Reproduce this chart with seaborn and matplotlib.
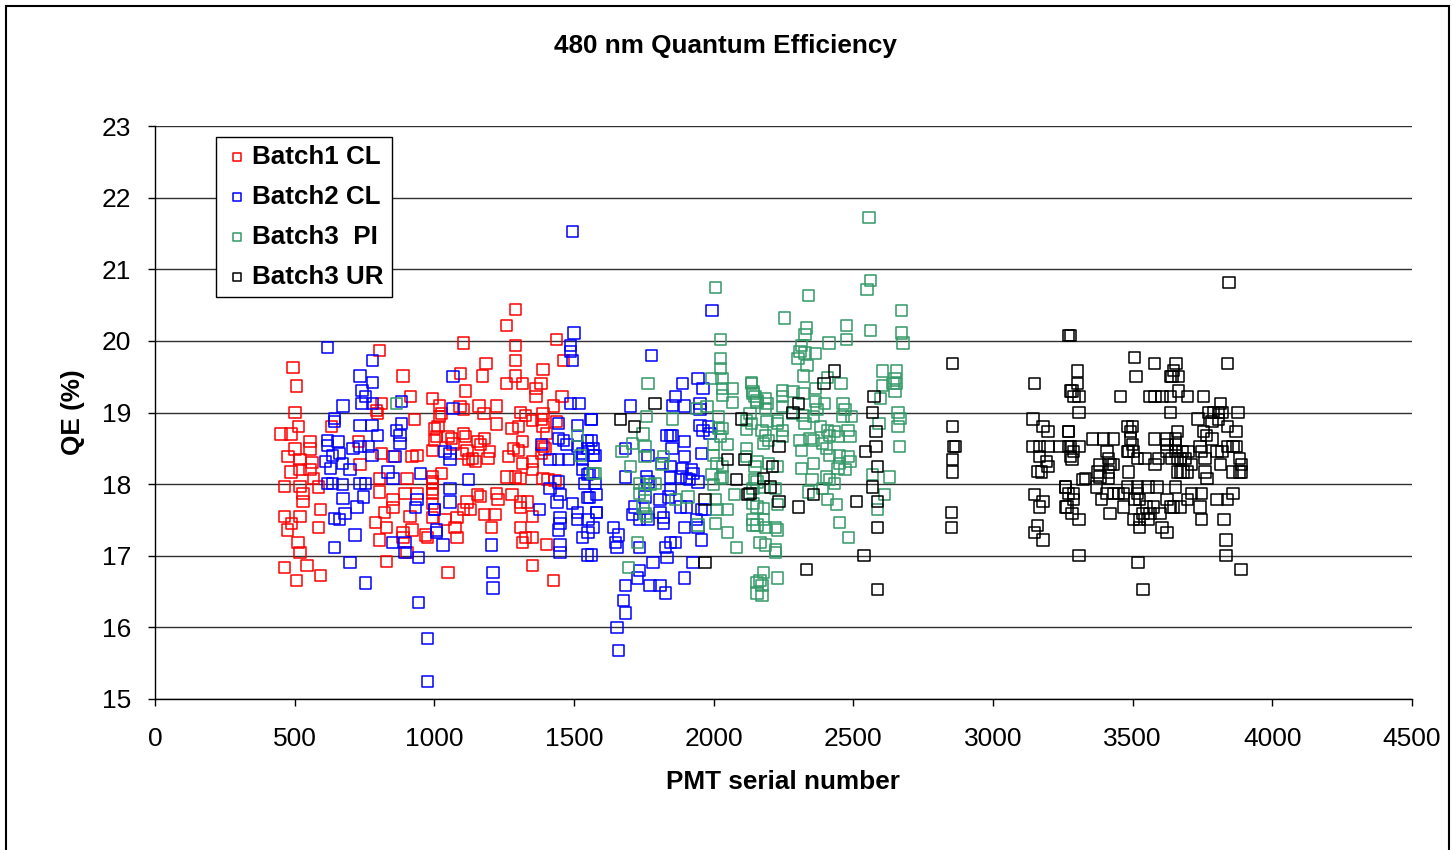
import matplotlib
matplotlib.use('Agg')
import matplotlib.pyplot as plt
import seaborn as sns
import pandas as pd
from matplotlib.patches import Rectangle

sns.set_theme(style='white')
plt.rcParams['font.family'] = ['Liberation Sans', 'DejaVu Sans']

title = '480 nm Quantum Efficiency'
x_label = 'PMT serial number'
y_label = 'QE (%)'
series_names = ['Batch1 CL', 'Batch2 CL', 'Batch3  PI', 'Batch3 UR']
series_colors = ['#FF0000', '#0000FF', '#339966', '#000000']
x_ticks = [0, 500, 1000, 1500, 2000, 2500, 3000, 3500, 4000, 4500]
y_ticks = [15, 16, 17, 18, 19, 20, 21, 22, 23]

batch1_x = [805, 494, 508, 888, 916, 995, 501, 812, 794, 798, 930, 515, 633, 451, 487, 555, 555, 501, 476, 519,
            562, 727, 734, 812, 852, 920, 938, 487, 519, 555, 465, 519, 584, 530, 530, 566, 805, 902, 805, 852,
            895, 938, 995, 995, 591, 465, 519, 490, 473, 584, 823, 788, 830, 852, 913, 920, 888, 967, 977, 805,
            512, 519, 888, 902, 465, 544, 591, 508, 830,
            1292, 1257, 1436, 1103, 1292, 1289, 1185, 1095, 1174, 1257, 1292, 1317, 1389, 1382, 1461, 1113, 1364, 1364, 1457, 1020,
            1027, 1020, 1092, 1103, 1160, 1221, 1178, 1221, 1307, 1325, 1389, 1385, 1389, 1403, 1428, 1436, 1353, 1278, 1300, 1002,
            1013, 1009, 1049, 1063, 1103, 1110, 1002, 995, 1067, 1153, 1164, 1181, 1199, 1192, 1317, 1282, 1300, 1389, 1396, 1385,
            1099, 1117, 1121, 1138, 1146, 1264, 1317, 1353, 1353, 995, 995, 992, 1027, 1260, 1289, 1307, 1389, 1407, 1432, 1156,
            1164, 1224, 1228, 1278, 1307, 1332, 1117, 1103, 1128, 1181, 1217, 1307, 1350, 995, 995, 1038, 1081, 1074, 1081, 1206,
            1307, 1325, 1317, 1350, 1403, 1350, 1049, 1428]
batch1_y = [19.86, 19.63, 19.37, 19.51, 19.22, 19.19, 19.00, 19.12, 19.03, 18.98, 18.90, 18.80, 18.80, 18.70, 18.70, 18.59, 18.49, 18.49, 18.38, 18.34,
            18.30, 18.59, 18.28, 18.43, 18.38, 18.38, 18.40, 18.17, 18.20, 18.20, 17.97, 17.97, 17.96, 17.87, 17.76, 18.08, 18.08, 18.08, 17.89, 17.79,
            17.87, 17.87, 18.03, 17.87, 17.65, 17.55, 17.55, 17.45, 17.36, 17.39, 17.61, 17.47, 17.40, 17.67, 17.55, 17.36, 17.33, 17.29, 17.26, 17.22,
            17.18, 17.05, 17.26, 17.04, 16.83, 16.87, 16.73, 16.66, 16.92,
            20.44, 20.21, 20.02, 19.97, 19.93, 19.73, 19.69, 19.55, 19.51, 19.40, 19.51, 19.41, 19.60, 19.41, 19.72, 19.30, 19.33, 19.22, 19.22, 19.10,
            18.99, 18.94, 19.08, 19.04, 19.09, 19.09, 18.98, 18.84, 19.00, 18.96, 18.99, 18.90, 18.80, 18.71, 19.09, 18.87, 18.89, 18.78, 18.80, 18.78,
            18.80, 18.66, 18.66, 18.64, 18.71, 18.66, 18.61, 18.47, 18.56, 18.59, 18.55, 18.64, 18.45, 18.36, 18.59, 18.50, 18.47, 18.53, 18.49, 18.43,
            18.43, 18.47, 18.34, 18.36, 18.31, 18.38, 18.29, 18.31, 18.20, 18.10, 18.01, 17.92, 18.15, 18.10, 18.10, 18.08, 18.08, 18.07, 18.05, 17.85,
            17.83, 17.87, 17.78, 17.85, 17.75, 17.75, 17.75, 17.64, 17.64, 17.57, 17.57, 17.67, 17.55, 17.73, 17.54, 17.50, 17.54, 17.40, 17.25, 17.40,
            17.39, 17.26, 17.18, 17.25, 17.16, 16.87, 16.76, 16.65]

batch2_x = [616, 780, 734, 780, 741, 752, 673, 741, 780, 884, 644, 644, 734, 777, 795, 884, 866, 877, 877, 616,
            619, 655, 709, 734, 763, 634, 662, 609, 627, 670, 698, 777, 859, 616, 634, 670, 734, 752, 834, 852,
            949, 673, 745, 723, 680, 644, 662, 938, 931, 1002, 1009, 716, 849, 895, 895, 644, 942, 698, 752, 942,
            974, 974,
            1496, 1500, 1486, 1489, 1496, 1067, 1067, 1486, 1518, 1561, 1443, 1511, 1443, 1461, 1547, 1550, 1568, 1385, 1475, 1514,
            1529, 1529, 1038, 1056, 1056, 1414, 1443, 1479, 1532, 1547, 1539, 1121, 1443, 1056, 1414, 1450, 1439, 1547, 1582, 1056,
            1002, 1378, 1450, 1450, 1443, 1496, 1511, 1511, 1550, 1582, 1532, 1550, 1009, 1031, 1206, 1450, 1450, 1547, 1210, 1210,
            1994, 1779, 1890, 1944, 1962, 1862, 1854, 1897, 1701, 1564, 1951, 1951, 1951, 1980, 1962, 1987, 1833, 1844, 1854, 1897,
            1564, 1568, 1575, 1683, 1851, 1765, 1897, 1958, 1815, 1844, 1887, 1922, 1926, 1683, 1761, 1765, 1844, 1880, 1904, 1915,
            1557, 1575, 1944, 1844, 1837, 1808, 1754, 1557, 1582, 1718, 1711, 1736, 1765, 1808, 1819, 1819, 1880, 1904, 1958, 1969,
            1940, 1944, 1897, 1958, 1640, 1658, 1647, 1654, 1736, 1826, 1844, 1862, 1833, 1783, 1926, 1736, 1726, 1683, 1772, 1808,
            1826, 1897, 1676, 1683, 1654, 1658, 1568, 1564]
batch2_y = [19.91, 19.72, 19.51, 19.42, 19.31, 19.22, 19.09, 19.12, 19.12, 19.15, 18.92, 18.87, 18.82, 18.82, 18.68, 18.85, 18.75, 18.68, 18.57, 18.61,
            18.54, 18.59, 18.50, 18.52, 18.52, 18.40, 18.43, 18.31, 18.22, 18.29, 18.20, 18.40, 18.38, 18.01, 18.01, 17.99, 18.01, 18.01, 18.17, 18.08,
            18.15, 17.80, 17.82, 17.68, 17.59, 17.52, 17.50, 17.78, 17.67, 17.64, 17.36, 17.29, 17.18, 17.18, 17.05, 17.11, 16.97, 16.90, 16.62, 16.35,
            15.85, 15.24,
            21.53, 20.11, 19.94, 19.85, 19.72, 19.50, 19.06, 19.12, 19.12, 18.90, 18.85, 18.82, 18.64, 18.61, 18.61, 18.50, 18.40, 18.55, 18.55, 18.52,
            18.43, 18.34, 18.45, 18.43, 18.34, 18.34, 18.34, 18.34, 18.20, 18.13, 18.01, 18.06, 18.03, 17.94, 17.94, 17.85, 17.75, 17.81, 17.85, 17.75,
            17.64, 17.64, 17.54, 17.45, 17.36, 17.73, 17.61, 17.50, 17.50, 17.61, 17.25, 17.32, 17.33, 17.15, 17.15, 17.15, 17.04, 17.01, 16.76, 16.55,
            20.42, 19.79, 19.40, 19.48, 19.33, 19.22, 19.10, 19.09, 19.09, 18.90, 19.13, 19.04, 18.82, 18.80, 18.75, 18.71, 18.68, 18.68, 18.68, 18.59,
            18.61, 18.50, 18.40, 18.50, 18.50, 18.40, 18.38, 18.43, 18.29, 18.24, 18.22, 18.20, 18.15, 18.10, 18.10, 18.03, 18.10, 18.10, 18.08, 18.06,
            18.15, 18.01, 18.03, 17.92, 17.82, 17.78, 17.82, 17.81, 17.61, 17.68, 17.57, 17.50, 17.50, 17.61, 17.53, 17.45, 17.68, 17.68, 17.64, 17.64,
            17.50, 17.40, 17.39, 17.22, 17.40, 17.29, 17.19, 17.11, 17.11, 17.12, 17.19, 17.19, 16.98, 16.90, 16.90, 16.80, 16.69, 16.59, 16.59, 16.59,
            16.48, 16.69, 16.38, 16.20, 16.00, 15.68, 17.39, 17.01]

batch3pi_x = [866, 1511, 1522, 1568,
              2005, 2023, 2023, 2023, 1994, 2030, 1765, 2033, 2033, 2069, 2069, 2137, 2141, 2155, 1940, 1976,
              1854, 1761, 2016, 2016, 2033, 2023, 2119, 2119, 1747, 1708, 1672, 1754, 1754, 1819, 1815, 1701,
              1998, 2048, 1998, 2012, 2033, 2119, 2119, 1575, 1736, 1772, 1754, 1790, 1736, 1994, 2023, 2033,
              1998, 2076, 2148, 1862, 1908, 1747, 1754, 1761, 2005, 2012, 2048, 1944, 2005, 2048, 2141, 2083,
              1726, 1694, 2155, 2155,
              2556, 2563, 2549, 2341, 2252, 2671, 2474, 2474, 2563, 2331, 2327, 2413, 2671, 2678, 2316, 2309,
              2302, 2327, 2334, 2363, 2323, 2456, 2409, 2366, 2606, 2656, 2649, 2642, 2656, 2606, 2649, 2596,
              2137, 2141, 2148, 2184, 2191, 2155, 2184, 2248, 2248, 2284, 2320, 2248, 2363, 2398, 2370, 2356,
              2463, 2470, 2463, 2495, 2284, 2320, 2327, 2660, 2667, 2660, 2592, 2230, 2227, 2191, 2130, 2137,
              2173, 2184, 2195, 2177, 2248, 2248, 2345, 2356, 2381, 2409, 2416, 2434, 2445, 2481, 2488, 2309,
              2316, 2391, 2405, 2416, 2452, 2481, 2488, 2452, 2445, 2470, 2664, 2356, 2316, 2155, 2148, 2195,
              2227, 2352, 2405, 2416, 2434, 2155, 2141, 2177, 2220, 2341, 2391, 2409, 2441, 2570, 2628, 2610,
              2588, 2141, 2155, 2177, 2227, 2449, 2484, 2141, 2155, 2177, 2184, 2220, 2230, 2166, 2184, 2220,
              2220, 2177, 2166, 2173, 2227, 2173]
batch3pi_y = [19.12, 18.68, 18.40, 18.15,
              20.74, 20.02, 19.75, 19.62, 19.48, 19.47, 19.40, 19.34, 19.24, 19.34, 19.14, 19.41, 19.27, 19.17, 19.05, 19.08,
              18.91, 18.94, 18.95, 18.78, 18.78, 18.66, 18.89, 18.76, 18.70, 18.57, 18.45, 18.52, 18.38, 18.38, 18.27, 18.24,
              18.55, 18.55, 18.40, 18.29, 18.24, 18.50, 18.38, 18.15, 18.01, 17.99, 17.92, 18.01, 17.87, 18.13, 18.08, 18.10,
              17.99, 17.85, 18.06, 17.78, 17.82, 17.68, 17.59, 17.55, 17.78, 17.64, 17.64, 17.43, 17.45, 17.32, 17.43, 17.12,
              17.19, 16.83, 16.63, 16.48,
              21.72, 20.84, 20.72, 20.63, 20.32, 20.42, 20.21, 20.02, 20.14, 20.18, 20.09, 19.97, 20.11, 19.97, 19.94, 19.85,
              19.76, 19.83, 19.66, 19.82, 19.51, 19.41, 19.49, 19.33, 19.58, 19.58, 19.48, 19.41, 19.41, 19.38, 19.29, 19.19,
              19.42, 19.29, 19.22, 19.20, 19.13, 19.14, 19.06, 19.31, 19.22, 19.29, 19.27, 19.08, 19.15, 19.13, 19.04, 18.94,
              19.13, 19.04, 18.94, 18.94, 18.99, 18.96, 18.85, 19.00, 18.92, 18.80, 18.85, 18.89, 18.85, 18.87, 18.99, 18.85,
              18.75, 18.68, 18.61, 18.57, 18.75, 18.66, 18.64, 18.61, 18.80, 18.75, 18.68, 18.73, 18.66, 18.75, 18.66, 18.61,
              18.47, 18.57, 18.50, 18.40, 18.40, 18.38, 18.31, 18.29, 18.22, 18.20, 18.53, 18.29, 18.22, 18.31, 18.24, 18.29,
              18.24, 18.06, 18.10, 18.06, 18.01, 18.03, 17.94, 17.96, 17.94, 17.89, 17.94, 17.78, 17.71, 18.13, 18.10, 17.85,
              17.64, 17.73, 17.68, 17.66, 17.71, 17.47, 17.26, 17.50, 17.43, 17.50, 17.39, 17.39, 17.36, 17.19, 17.15, 17.08,
              17.04, 16.77, 16.66, 16.59, 16.69, 16.45]

batch3ur_x = [1790, 1665, 1718, 2101, 2051, 2112, 2083, 2123, 1969, 1969,
              2431, 2395, 2305, 2284, 2574, 2570, 2581, 2581, 2545, 2588, 2234, 2212, 2177, 2202, 2130, 2234,
              2356, 2305, 2510, 2570, 2588, 2588, 2538, 2331, 2588,
              2854, 3150, 2854, 2858, 2865, 2854, 2854, 3143, 3179, 3197, 3143, 3168, 3197, 3168, 3193, 3197,
              3161, 3175, 2850, 2850, 3150, 3179, 3168, 3158, 3150, 3179, 3269, 3276, 3269, 3276, 3276, 3258,
              3269, 3265,
              3845, 3276, 3505, 3577, 3655, 3645, 3641, 3663, 3634, 3841, 3512, 3301, 3301, 3283, 3290, 3308,
              3455, 3562, 3580, 3605, 3634, 3663, 3695, 3752, 3816, 3308, 3634, 3734, 3770, 3788, 3806, 3820,
              3784, 3806, 3877, 3841, 3870, 3269, 3480, 3498, 3491, 3659, 3752, 3763, 3784, 3240, 3269, 3308,
              3287, 3283, 3355, 3394, 3430, 3491, 3498, 3484, 3502, 3577, 3623, 3652, 3623, 3652, 3623, 3652,
              3677, 3698, 3688, 3741, 3748, 3759, 3802, 3820, 3838, 3859, 3873, 3884, 3891, 3884, 3408, 3412,
              3419, 3430, 3383, 3376, 3383, 3412, 3412, 3330, 3322, 3480, 3516, 3544, 3591, 3580, 3641, 3659,
              3670, 3484, 3659, 3670, 3680, 3695, 3712, 3759, 3766, 3813, 3856, 3891, 3258, 3287, 3287, 3258,
              3283, 3308, 3372, 3390, 3408, 3430, 3448, 3466, 3480, 3516, 3555, 3587, 3652, 3516, 3526, 3508,
              3466, 3419, 3551, 3573, 3537, 3562, 3598, 3526, 3555, 3502, 3526, 3605, 3623, 3623, 3634, 3645,
              3670, 3695, 3712, 3748, 3741, 3802, 3838, 3859, 3748, 3827, 3834, 3834, 3888, 3308, 3519, 3537]
batch3ur_y = [19.12, 18.90, 18.81, 18.91, 18.35, 18.35, 18.07, 17.86, 17.78, 16.91,
              19.58, 19.40, 19.12, 19.00, 19.22, 19.00, 18.73, 18.53, 18.45, 18.25, 18.53, 18.25, 18.08, 17.96, 17.87, 17.76,
              17.86, 17.68, 17.76, 17.96, 17.76, 17.40, 17.00, 16.81, 16.53,
              19.68, 19.40, 18.81, 18.53, 18.53, 18.35, 18.17, 18.91, 18.81, 18.73, 18.53, 18.53, 18.53, 18.38, 18.32, 18.25,
              18.18, 18.17, 17.60, 17.40, 17.86, 17.76, 17.68, 17.42, 17.32, 17.22, 20.07, 19.30, 18.73, 18.53, 18.38, 17.96,
              17.87, 17.68,
              20.81, 20.07, 19.77, 19.68, 19.68, 19.59, 19.50, 19.50, 19.50, 19.68, 19.50, 19.58, 19.40, 19.30, 19.22, 19.22,
              19.22, 19.22, 19.22, 19.22, 19.22, 19.30, 19.22, 19.22, 19.12, 19.00, 19.00, 18.91, 19.00, 19.00, 19.00, 19.00,
              18.88, 18.90, 19.00, 18.81, 18.73, 18.73, 18.81, 18.81, 18.73, 18.73, 18.73, 18.68, 18.63, 18.53, 18.53, 18.53,
              18.45, 18.34, 18.63, 18.63, 18.63, 18.63, 18.55, 18.45, 18.45, 18.63, 18.63, 18.63, 18.55, 18.55, 18.45, 18.45,
              18.45, 18.45, 18.36, 18.53, 18.45, 18.36, 18.45, 18.45, 18.53, 18.53, 18.53, 18.36, 18.27, 18.17, 18.45, 18.36,
              18.27, 18.27, 18.27, 18.17, 18.10, 18.17, 18.08, 18.08, 18.06, 18.45, 18.36, 18.36, 18.36, 18.27, 18.36, 18.36,
              18.36, 18.17, 18.17, 18.17, 18.17, 18.17, 18.27, 18.17, 18.08, 18.27, 18.17, 18.17, 17.96, 17.87, 17.78, 17.68,
              17.59, 17.50, 17.96, 17.78, 17.87, 17.87, 17.87, 17.87, 17.96, 17.96, 17.96, 17.96, 17.96, 17.87, 17.78, 17.78,
              17.68, 17.59, 17.68, 17.68, 17.59, 17.59, 17.59, 17.50, 17.50, 17.50, 17.40, 17.40, 17.32, 17.78, 17.68, 17.68,
              17.68, 17.78, 17.87, 17.87, 17.68, 17.78, 17.78, 17.87, 17.50, 17.50, 17.22, 17.00, 16.81, 17.00, 16.91, 16.53]

all_x = [batch1_x, batch2_x, batch3pi_x, batch3ur_x]
all_y = [batch1_y, batch2_y, batch3pi_y, batch3ur_y]

W, H = 1456, 850
fig = plt.figure(figsize=(W / 100, H / 100), dpi=100)
fig.patch.set_facecolor('white')
ax = fig.add_axes([155 / W, 1 - 699 / H, (1412 - 155) / W, (699 - 126) / H])
ax.set_facecolor('white')

for name, col, xs, ys in zip(series_names, series_colors, all_x, all_y):
    df = pd.DataFrame({'serial': xs, 'qe': ys})
    sns.scatterplot(data=df, x='serial', y='qe', ax=ax, marker='s', s=64,
                    color=col, facecolors='none', edgecolor=col, linewidth=1.1,
                    label=name, zorder=3)

ax.set_xlim(0, 4500)
ax.set_ylim(15, 23)
ax.set_xticks(x_ticks)
ax.set_yticks(y_ticks)
ax.set_xticklabels([str(v) for v in x_ticks])
ax.set_yticklabels([str(v) for v in y_ticks])
ax.yaxis.grid(True, color='#303030', linewidth=1.0)
ax.xaxis.grid(False)
ax.set_axisbelow(True)
for s in ['top', 'right']:
    ax.spines[s].set_visible(False)
for s in ['left', 'bottom']:
    ax.spines[s].set_visible(True)
    ax.spines[s].set_color('black')
    ax.spines[s].set_linewidth(1.0)
ax.tick_params(axis='both', which='major', bottom=True, left=True, direction='out',
               length=5, width=1, color='black', labelcolor='black', labelsize=19)
ax.tick_params(axis='x', pad=15.5)
ax.tick_params(axis='y', pad=12)
ax.set_xlabel('')
ax.set_ylabel('')

leg = ax.legend(loc='upper left', bbox_to_anchor=(61 / 1257, 1 - 11 / 573),
                frameon=True, fancybox=False, edgecolor='black', framealpha=1,
                prop={'weight': 'bold', 'size': 18.7}, handletextpad=0.1,
                borderpad=0.3, labelspacing=0.62, markerscale=0.75,
                handlelength=1.0, borderaxespad=0)
leg.get_frame().set_linewidth(1.0)
for t in leg.get_texts():
    t.set_color('black')

fig.text(725 / W, 1 - 46 / H, title, ha='center', va='center',
         fontsize=18.8, fontweight='bold', color='black')
fig.text(783 / W, 1 - 782 / H, x_label, ha='center', va='center',
         fontsize=18.8, fontweight='bold', color='black')
fig.text(73 / W, 1 - 412 / H, y_label, ha='center', va='center', rotation=90,
         fontsize=18.8, fontweight='bold', color='black')

fig.patches.append(Rectangle((6 / W, -0.02), (1449 - 6) / W, 1 - 6 / H + 0.02,
                             transform=fig.transFigure, fill=False,
                             edgecolor='black', linewidth=1.5, zorder=0))

fig.savefig('out.png', dpi=100, facecolor='white')
